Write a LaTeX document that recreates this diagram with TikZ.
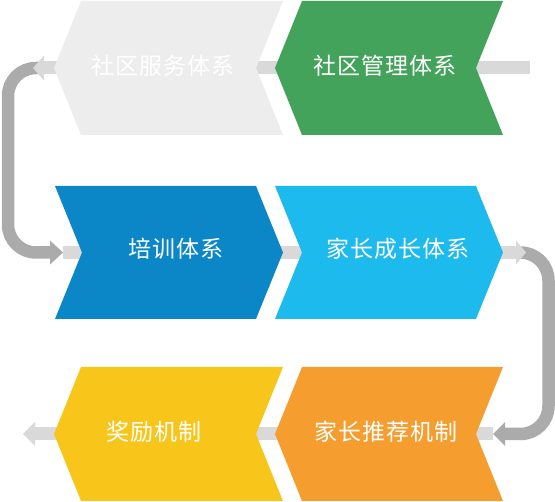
\documentclass[tikz,border=0pt]{standalone}
\usepackage{fontspec}
\newfontfamily\cjk[LetterSpace=5]{Noto Sans CJK SC}
\definecolor{cgrey}{HTML}{EDEDEE}
\definecolor{cgreen}{HTML}{43A35A}
\definecolor{cdblue}{HTML}{0B87C8}
\definecolor{clblue}{HTML}{1DBAEE}
\definecolor{cyellow}{HTML}{F8C61B}
\definecolor{corange}{HTML}{F59D2F}
\definecolor{cbar}{HTML}{D9D9D9}
\definecolor{cpipe}{HTML}{ABABAB}
\begin{document}
\begin{tikzpicture}[x=1pt,y=-1pt,
  lbar/.style={line width=13pt, draw=cbar},
  pipe/.style={line width=12.5pt, draw=cpipe, rounded corners=28pt},
  lhead/.style={fill=cbar},
  dhead/.style={fill=cpipe},
  lab/.style={text=white, inner sep=0pt, font=\cjk\fontsize{23}{23}\selectfont}]
\useasboundingbox (0,0) rectangle (555,502);
% connector end points
\coordinate (r1r) at (530,68);
\coordinate (r1l) at (43,68);
\coordinate (r1t) at (33,68);
\coordinate (r2l) at (63,252.5);
\coordinate (r2r) at (517,252.5);
\coordinate (r2t) at (526,252.5);
\coordinate (r3r) at (493,434);
\coordinate (r3l) at (34,434);
\coordinate (r3t) at (23,434);
\coordinate (lp1) at (42,68);
\coordinate (lp2) at (51,252.5);
\coordinate (rp1) at (518,252.5);
\coordinate (rp2) at (505,434);
% dark pipes
\draw[pipe] (lp1) -- (8,68) -- (8,252.5) -- (lp2);
\draw[pipe] (rp1) -- (548.5,252.5) -- (548.5,434) -- (rp2);
% light bars
\draw[lbar] (r1r) -- (r1l);
\draw[lbar] (r2l) -- (r2r);
\draw[lbar] (r3r) -- (r3l);
% arrow heads
\fill[lhead] (r1t) -- (44,55.5) -- (44,80.5) -- cycle;
\fill[lhead] (r2t) -- (516,240.5) -- (516,264.5) -- cycle;
\fill[lhead] (r3t) -- (35,422) -- (35,446) -- cycle;
\fill[dhead] (r2l) -- (50,240.5) -- (50,264.5) -- cycle;
\fill[dhead] (r3r) -- (505,422) -- (505,446) -- cycle;
% chevrons
\fill[cgrey]   (81,1) -- (283,1) -- (256,68) -- (283,135) -- (81,135) -- (54,68) -- cycle;
\fill[cgreen]  (302,1) -- (503,1) -- (476,68) -- (503,135) -- (302,135) -- (275,68) -- cycle;
\fill[cdblue]  (55,186) -- (256,186) -- (283,252.5) -- (256,319) -- (55,319) -- (82,252.5) -- cycle;
\fill[clblue]  (275,186) -- (476,186) -- (503,252.5) -- (476,319) -- (275,319) -- (302,252.5) -- cycle;
\fill[cyellow] (81,367) -- (283,367) -- (256,434) -- (283,501) -- (81,501) -- (54,434) -- cycle;
\fill[corange] (302,367) -- (503,367) -- (476,434) -- (503,501) -- (302,501) -- (275,434) -- cycle;
% labels
\node[lab] (fw) at (163,66) {社区服务体系};
\node[lab] (gl) at (385,66) {社区管理体系};
\node[lab] (px) at (176,249) {培训体系};
\node[lab] (cz) at (398,249) {家长成长体系};
\node[lab] (jl) at (154,432) {奖励机制};
\node[lab] (tj) at (386,432) {家长推荐机制};
\end{tikzpicture}
\end{document}
